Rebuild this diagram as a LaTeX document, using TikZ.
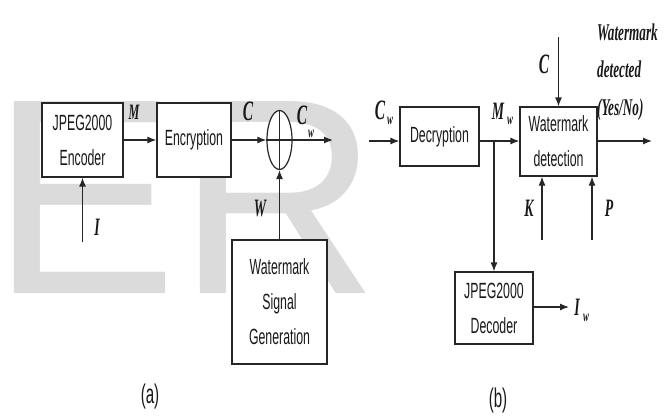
\documentclass[tikz,border=0pt]{standalone}
\usepackage{fontspec}
\usetikzlibrary{arrows.meta,shapes.geometric}
\newfontfamily\boxfont[FakeStretch=0.56]{Liberation Sans}
\newfontfamily\labfont[FakeStretch=0.55]{Liberation Serif}
\newfontfamily\wmfont{Liberation Sans}
\begin{document}
\begin{tikzpicture}[x=1pt,y=-1pt,
  blk/.style={draw=black!85, line width=1.2pt, fill=white, inner sep=0pt, align=center,
    text=black!90, font=\boxfont\fontsize{22}{35}\selectfont},
  arr/.style={draw=black!85, line width=1.2pt, -{Latex[length=9pt,width=7pt]}},
  ln/.style={draw=black!85, line width=1.2pt},
  lab/.style={inner sep=0pt, text=black!90, font=\labfont\bfseries\itshape\fontsize{25}{25}\selectfont},
  labbig/.style={inner sep=0pt, text=black!90, font=\labfont\bfseries\itshape\fontsize{28}{28}\selectfont},
  labsmall/.style={inner sep=0pt, text=black!90, font=\labfont\bfseries\itshape\fontsize{22}{22}\selectfont},
  subw/.style={inner sep=0pt, text=black!90, font=\labfont\bfseries\itshape\fontsize{16}{16}\selectfont},
  dettext/.style={inner sep=0pt, anchor=base west, text=black!90, font=\labfont\bfseries\itshape\fontsize{24}{24}\selectfont},
  captxt/.style={inner sep=0pt, text=black!90, font=\boxfont\fontsize{27}{27}\selectfont}]
\useasboundingbox (0,0) rectangle (667,416);
% background watermark
\node[anchor=base west, inner sep=0pt, text=black!14, font=\wmfont\fontsize{279}{279}\selectfont] (wm) at (13,293) {\kern-22pt ER};

% ---------- (a) ----------
\node[blk, minimum width=81, minimum height=74] (enc) at (82.5,140) {JPEG2000\\Encoder};
\node[blk, minimum width=74, minimum height=74] (encr) at (194,140) {Encryption};
\node[draw=black!85, line width=1.2pt, ellipse, fill=white, minimum width=25, minimum height=59, inner sep=0pt] (xor) at (279.5,140) {};
\draw[ln] (xor.north) -- (xor.south) (xor.west) -- (xor.east);
\node[blk, minimum width=95, minimum height=124] (wsg) at (279.5,302) {Watermark\\Signal\\Generation};
\coordinate (iin) at (82.5,242);
\coordinate (cwout) at (333,140);
\draw[arr] (enc) -- (encr);
\draw[arr] (encr) -- (xor);
\draw[arr] (xor) -- (cwout);
\draw[arr] (wsg) -- (xor);
\draw[arr] (iin) -- (enc.south);
\node[labsmall] (lM) at (134,112) {M};
\node[labbig] (lC) at (248,111) {C};
\node[labbig] (lCw) at (302,115) {C};
\node[subw] (lCws) at (311,134) {w};
\node[lab] (lW) at (260,208) {W};
\node[lab] (lI) at (97,227) {I};
\node[captxt] (capa) at (150,397) {(a)};

% ---------- (b) ----------
\node[blk, minimum width=79, minimum height=59] (dec) at (439.5,136.5) {Decryption};
\node[blk, minimum width=77, minimum height=69] (wd) at (558.5,141.5) {Watermark\\detection};
\node[blk, minimum width=78, minimum height=72] (jd) at (494,308) {JPEG2000\\Decoder};
\coordinate (cwin) at (369,141);
\coordinate (br) at (494,141);
\coordinate (ctop) at (558.5,37);
\coordinate (kin) at (542,240);
\coordinate (pin) at (592,240);
\coordinate (yout) at (652,141);
\coordinate (iwout) at (569,307);
\draw[arr] (cwin) -- (cwin -| dec.west);
\draw[ln] (cwin -| dec.east) -- (br);
\draw[arr] (br) -- (br -| wd.west);
\draw[arr] (br) -- (jd.north);
\draw[arr] (ctop) -- (wd.north);
\draw[arr] (kin) -- (kin |- wd.south);
\draw[arr] (pin) -- (pin |- wd.south);
\draw[arr] (wd.east |- yout) -- (yout);
\draw[arr] (jd.east |- iwout) -- (iwout);
\node[labbig] (lCb) at (380,110) {C};
\node[subw] (lCbs) at (390,121) {w};
\node[lab] (lMw) at (498,111) {M};
\node[subw] (lMws) at (510,121) {w};
\node[labbig] (lC2) at (544,64) {C};
\node[lab] (lK) at (529,208) {K};
\node[lab] (lP) at (609,208) {P};
\node[lab] (lIw) at (577,307) {I};
\node[subw] (lIws) at (586,318) {w};
\node[dettext] (d1) at (597,40) {Watermark};
\node[dettext] (d2) at (597,77) {detected};
\node[dettext] (d3) at (597,115) {(Yes/No)};
\node[captxt] (capb) at (498,401) {(b)};
\end{tikzpicture}
\end{document}
